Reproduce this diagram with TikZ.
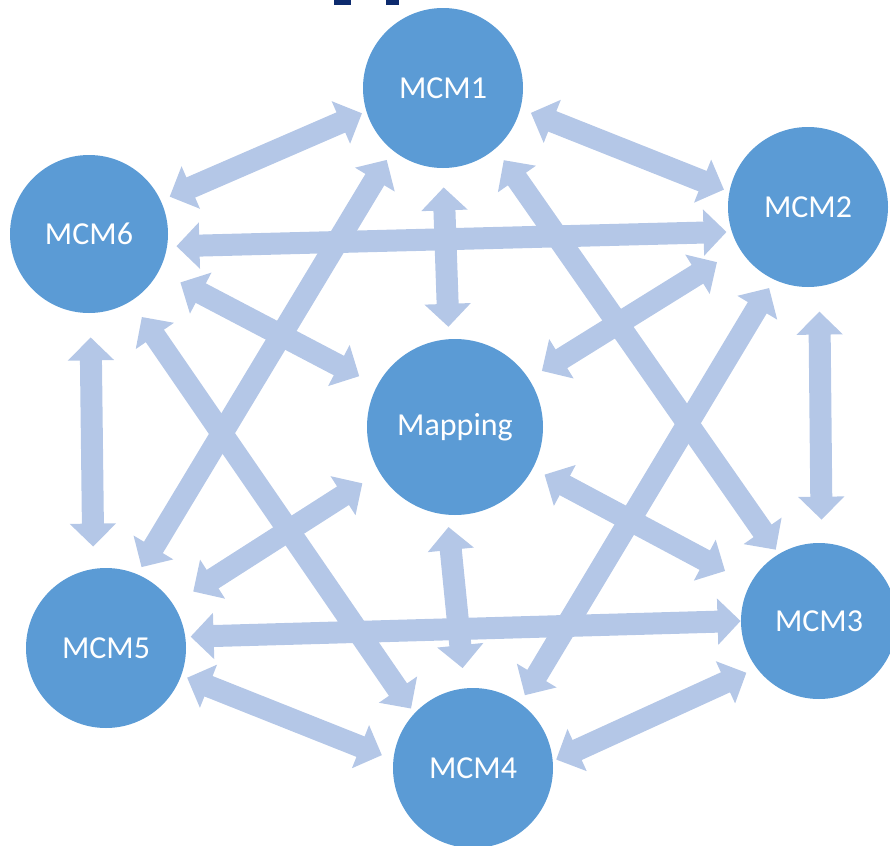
\documentclass[tikz,border=0pt]{standalone}
\usepackage{fontspec}
\setmainfont{Carlito}
\usetikzlibrary{arrows.meta}

\definecolor{cerchio}{HTML}{5B9BD5}
\definecolor{freccia}{HTML}{B4C7E7}
\definecolor{titolo}{HTML}{0D2B6E}

\begin{document}
\begin{tikzpicture}[x=0.5pt,y=-0.5pt,
    mcm/.style={circle,fill=cerchio,text=white,inner sep=0pt,minimum size=80pt,
        font=\fontsize{16}{19}\selectfont},
    link/.style={freccia,line width=11pt,
        {Triangle[width=22.5pt,length=11.5pt]}-{Triangle[width=22.5pt,length=11.5pt]}}]
        \useasboundingbox (0,0) rectangle (890,846);

        % Resti del titolo tagliato
        \fill[titolo] (334,0) rectangle (351,5);
        \fill[titolo] (386,0) rectangle (399,5);

        % Cerchi
        \node[mcm] (m1) at (443,88) {MCM1};
        \node[mcm] (m2) at (808,207) {MCM2};
        \node[mcm,minimum size=78pt] (m3) at (819,621) {MCM3};
        \node[mcm] (m4) at (473,768) {MCM4};
        \node[mcm] (m5) at (106,648) {MCM5};
        \node[mcm,minimum size=79pt] (m6) at (89,234) {MCM6};
        \node[mcm,minimum size=88pt] (map) at (455,427) {Mapping};

        % Frecce tra i vicini
        \draw[link,shorten <=2.25pt,shorten >=4.75pt] (m1.197) -- (m6.25);
        \draw[link,shorten <=5.5pt,shorten >=2.75pt] (m1.-15) -- (m2.169);
        \draw[link,shorten <=12.5pt,shorten >=11.5pt] (m2.-82) -- (m3.88);
        \draw[link,shorten <=5.5pt,shorten >=1.7pt] (m3.217) -- (m4.5);
        \draw[link,shorten <=3pt,shorten >=6pt] (m5.-20) -- (m4.174);
        \draw[link,shorten <=12pt,shorten >=11pt] (m6.-89) -- (m5.99);

        % Frecce lunghe
        \draw[link,shorten <=4.5pt,shorten >=2.5pt] (m6.-9) -- (m2.198);
        \draw[link,shorten <=2.5pt,shorten >=0pt] (m5.8) -- (m3.180);
        \draw[link,shorten <=5.5pt,shorten >=4pt] (m1.231) -- (m5.67);
        \draw[link,shorten <=7pt,shorten >=2.5pt] (m1.-49) -- (m3.121);
        \draw[link,shorten <=9.5pt,shorten >=2.8pt] (m6.-58) -- (m4.137);
        \draw[link,shorten <=4.75pt,shorten >=4.5pt] (m2.245) -- (m4.54);

        % Frecce verso il centro
        \draw[link,shorten <=9.5pt,shorten >=6pt] (m1.-90) -- (map.94);
        \draw[link,shorten <=13pt,shorten >=7.5pt] (m2.211) -- (map.33);
        \draw[link,shorten <=6.5pt,shorten >=14pt] (map.-28) -- (m3.152);
        \draw[link,shorten <=6pt,shorten >=10pt] (map.265) -- (m4.96);
        \draw[link,shorten <=10pt,shorten >=11.75pt] (map.211) -- (m5.33);
        \draw[link,shorten <=12pt,shorten >=10pt] (m6.-28) -- (map.152);
    \end{tikzpicture}
\end{document}
